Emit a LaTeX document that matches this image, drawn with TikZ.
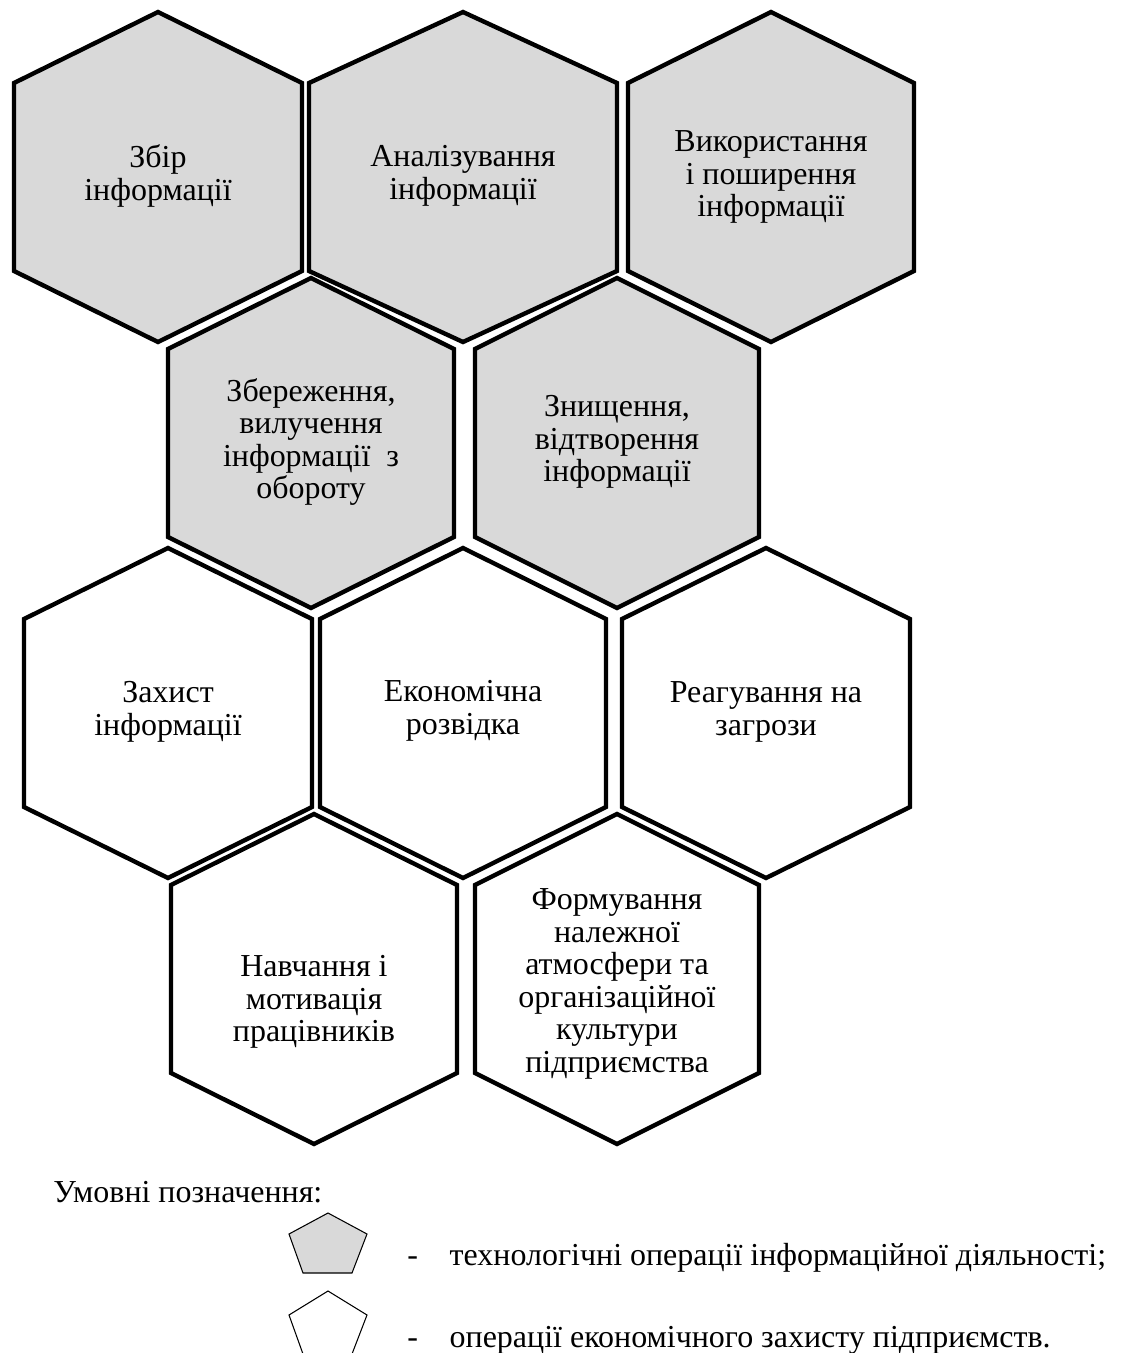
\documentclass[tikz,border=0pt]{standalone}
\usepackage{fontspec}
\setmainfont{Liberation Serif}
\usepackage{xcolor}
\usetikzlibrary{positioning, calc}

\definecolor{opgray}{RGB}{217,217,217}

\begin{document}
\begin{tikzpicture}[x=0.02cm, y=-0.02cm]

	\tikzset{
		hexcell/.style={
				draw=black, line width=2.5pt, line join=miter
			},
		optext/.style={
				align=center, inner sep=0pt, font=\fontsize{18.2}{18.5}\selectfont
			},
		legtext/.style={
				anchor=base west, inner sep=0pt, font=\fontsize{18.2}{18.5}\selectfont
			},
		pentcell/.style={
				draw=black, line width=0.6pt
			},
	}

	\useasboundingbox (0,0) rectangle (1121,1353);

	% honeycomb: centre x / centre y / half width / fill
	\begin{scope}[hexcell]
		\foreach \cx/\cy/\w/\f in {158/177/144/opgray, 463/177/154/opgray, 771/177/143/opgray,
				311/443/143/opgray, 617/443/142/opgray,
				168/713/144/white, 463/713/143/white, 766/713/144/white,
				314/979/143/white, 617/979/142/white}
			\filldraw[fill=\f] (\cx,\cy-165) -- (\cx+\w,\cy-94) -- (\cx+\w,\cy+94)
			-- (\cx,\cy+165) -- (\cx-\w,\cy+94) -- (\cx-\w,\cy-94) -- cycle;
	\end{scope}

	\node[optext](zbir) at (158,176){Збір\\інформації};
	\node[optext](analiz) at (463,176){Аналізування\\інформації};
	\node[optext](vykor) at (771,177){Використання\\і поширення\\інформації};

	\node[optext](zberezh) at (311,442){Збереження,\\вилучення\\інформації~ з\\обороту};
	\node[optext](znyshch) at (617,442){Знищення,\\відтворення\\інформації};

	\node[optext](zakhyst) at (168,712){Захист\\інформації};
	\node[optext](rozvid) at (463,711){Економічна\\розвідка};
	\node[optext](reag) at (766,712){Реагування на\\загрози};

	\node[optext](navch) at (314,1002){Навчання і\\мотивація\\працівників};
	\node[optext](kultura) at (617,984){Формування\\належної\\атмосфери та\\організаційної\\культури\\підприємства};

	% legend
	\node[legtext](umovni) at (53,1202){Умовні позначення:};

	\filldraw[pentcell, fill=opgray] (328,1213) -- (367,1234) -- (352,1273) -- (303,1273) -- (289,1234) -- cycle;
	\draw[pentcell] (328,1291) -- (367,1315) -- (352,1354) -- (303,1354) -- (289,1315) -- cycle;

	\node[legtext](dash1) at (407,1265){-};
	\node[legtext, base right=0.62cm of dash1](tekhn){технологічні операції інформаційної діяльності;};
	\node[legtext](dash2) at (407,1347){-};
	\node[legtext, base right=0.62cm of dash2](ekon){операції економічного захисту підприємств.};

\end{tikzpicture}
\end{document}
